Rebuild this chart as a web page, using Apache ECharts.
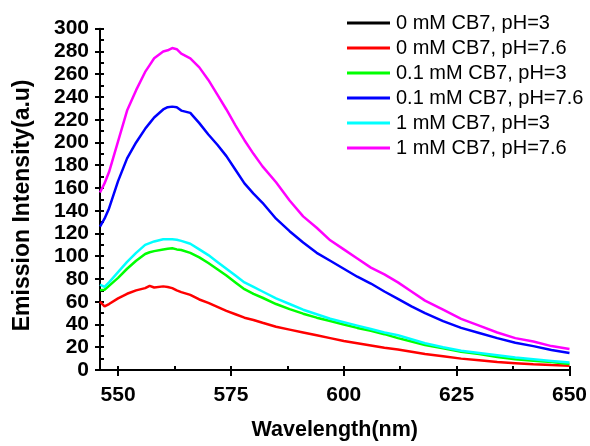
<!DOCTYPE html>
<html>
<head>
<meta charset="utf-8">
<script src="https://cdn.jsdelivr.net/npm/echarts@6/dist/echarts.min.js"></script>
<style>
html,body{margin:0;padding:0;background:#fff;}
#chart{width:590px;height:446px;}
</style>
</head>
<body>
<div id="chart"></div>
<script>
// ---- data ----
const wavelengths = [546,547,548,550,552,554,556,557,558,560,561,562,563,564,566,568,570,572,574,576,578,580,582,585,588,591,594,597,600,603,606,609,612,615,618,622,626,630,634,638,642,646,650];
const seriesNames = ['0 mM CB7, pH=3','0 mM CB7, pH=7.6','0.1 mM CB7, pH=3','0.1 mM CB7, pH=7.6','1 mM CB7, pH=3','1 mM CB7, pH=7.6'];
const seriesColors = ['#000000','#ff0000','#00ff00','#0000ff','#00ffff','#ff00ff'];
// black curve is not visible in the reference (hidden), legend entry only
const cb0_pH3 = [];
const cb0_pH76 = [60,56,58,63,67,70,72,74,72.5,73.5,73,72,70,68.5,66,62,59,55.5,52,49,46,44,41.5,38,35.5,33,30.5,28,25.5,23.5,21.5,19.5,18,16,14,12,10,8.5,7,6,5,4.3,3.8];
const cb01_pH3 = [70,70.5,74,81,89,96,102,103.5,104.5,106,106.5,107,106,105.5,103,99,94,88.5,83,77,71,67,63.5,58,53.5,49.5,46,43,40,37,34.5,31.5,28,25,22,19,16,14,11.5,9.5,8.2,7,5.2];
const cb01_pH76 = [126,133,142,166,186,200,212,217,222,229,231,231.5,231,228,226,217,207,198,188,176,164,155,147,133,122,112,103,96,89,82,76,69,62.5,56,50,43,37,32.5,28,24,21,17.5,15];
const cb1_pH3 = [75,73,77,86,95,103,110,111.5,113,115,115,115,114.5,113.5,111,106,101,95,89,83,77,73,69,63,58,53,49,45,42,39,36,33,30.5,27,23.5,20,17,15,13,11,9.5,8,6.5];
const cb1_pH76 = [156,164,174,201,228,246,262,268,274,280,281,283,282,278,274,266,255,242,229,215,202,190,179,165,149,135,125,114,106,98,90,84,77,69,61,53,45,39,33,28,25,21,18.5];
const xTickLabels = [550,575,600,625,650];
const xMinorTicks = [550,562.5,575,587.5,600,612.5,625,637.5,650];

const allValues = [cb0_pH3, cb0_pH76, cb01_pH3, cb01_pH76, cb1_pH3, cb1_pH76];

const FONT = "'Liberation Sans', Arial, sans-serif";

function pairs(vals){ return vals.map((v,i)=>[wavelengths[i], v]); }

const chart = echarts.init(document.getElementById('chart'), null, {renderer:'canvas'});
chart.setOption({
  animation:false,
  backgroundColor:'#ffffff',
  grid:{left:100, right:20, top:28.7, bottom:69.3, containLabel:false},
  legend:{
    orient:'vertical', left:342, top:8,
    itemWidth:43, itemHeight:3, itemGap:5,
    icon:'rect',
    textStyle:{fontFamily:FONT, fontSize:20, color:'#000', padding:[0,0,0,1]},
    data:seriesNames
  },
  xAxis:[{
    type:'value', min:546, max:650,
    axisLine:{show:true, lineStyle:{color:'#000', width:2}},
    axisTick:{show:true, inside:false, length:6, customValues:xTickLabels, lineStyle:{color:'#000', width:2}},
    axisLabel:{customValues:xTickLabels, fontFamily:FONT, fontWeight:'bold', fontSize:21, color:'#000', margin:15},
    splitLine:{show:false},
    name:'Wavelength(nm)', nameLocation:'middle', nameGap:49,
    nameTextStyle:{fontFamily:FONT, fontWeight:'bold', fontSize:21.5, color:'#000'}
  },{
    type:'value', min:546, max:650, position:'bottom',
    axisLine:{show:false},
    axisTick:{show:true, inside:true, length:4, customValues:xMinorTicks, lineStyle:{color:'#000', width:2}},
    axisLabel:{show:false},
    splitLine:{show:false}
  }],
  yAxis:[{
    type:'value', min:0, max:300, interval:20,
    axisLine:{show:true, lineStyle:{color:'#000', width:2}},
    axisTick:{show:true, inside:false, length:5, lineStyle:{color:'#000', width:2}},
    axisLabel:{fontFamily:FONT, fontWeight:'bold', fontSize:21, color:'#000', margin:11},
    splitLine:{show:false},
    name:'Emission Intensity(a.u)', nameLocation:'middle', nameGap:66, nameRotate:90,
    nameTextStyle:{fontFamily:FONT, fontWeight:'bold', fontSize:23, color:'#000', padding:[0,12,0,0]}
  },{
    type:'value', min:0, max:300, interval:10, position:'left',
    axisLine:{show:false},
    axisTick:{show:true, inside:true, length:4, lineStyle:{color:'#000', width:2}},
    axisLabel:{show:false},
    splitLine:{show:false}
  }],
  series: seriesNames.map((n,i)=>({
    name:n, type:'line', xAxisIndex:0, yAxisIndex:0,
    data:pairs(allValues[i]),
    showSymbol:false, symbol:'none',
    lineStyle:{color:seriesColors[i], width:2.5},
    itemStyle:{color:seriesColors[i]},
    emphasis:{disabled:true}
  }))
});
</script>
</body>
</html>
